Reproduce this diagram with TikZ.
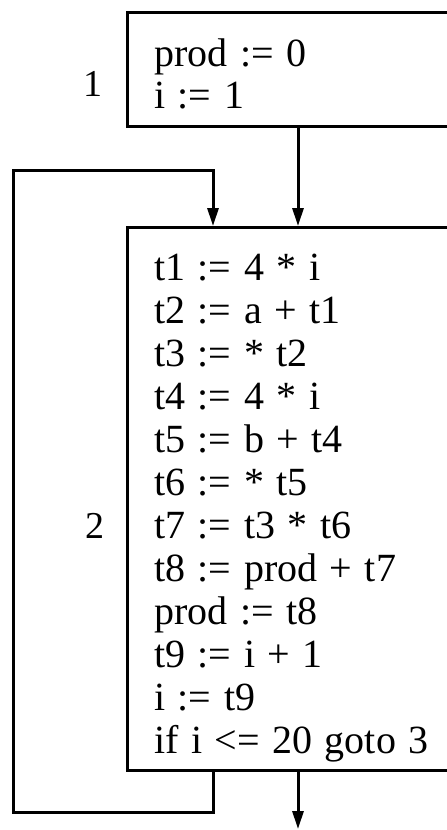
\documentclass[tikz,border=0pt]{standalone}
\usepackage{fontspec}
\setmainfont[WordSpace=1.25]{Liberation Serif}
\usetikzlibrary{arrows.meta}
\begin{document}
\begin{tikzpicture}[x=1pt,y=1pt,
  blk/.style={draw, line width=3pt, inner sep=0pt, anchor=north west},
  code/.style={anchor=base west, inner sep=0pt, font=\fontsize{40}{43}\selectfont},
  lbl/.style={anchor=base, inner sep=0pt, font=\fontsize{38}{43}\selectfont},
  arr/.style={line width=3pt, -{Triangle[length=18pt,width=11pt]}}]
\useasboundingbox (0,0) rectangle (447,-830);
\clip (0,0) rectangle (447,-830);
\fill[white] (0,0) rectangle (447,-830);
% blocks
\node[blk, minimum width=360pt, minimum height=114pt] (b1) at (126,-11) {};
\node[blk, minimum width=360pt, minimum height=543pt] (b2) at (126,-226) {};
% block labels
\node[lbl] (n1) at (93,-96) {1};
\node[lbl] (n2) at (95,-538) {2};
% code of block 1
\node[code] (p1) at (154,-66) {prod := 0};
\node[code] (p2) at (154,-108) {i := 1};
% code of block 2
\foreach \t [count=\k from 0] in {t1 := 4 * i, t2 := a + t1, t3 := * t2, t4 := 4 * i,
  t5 := b + t4, t6 := * t5, t7 := t3 * t6, t8 := prod + t7, prod := t8,
  t9 := i + 1, i := t9, if i <= 20 goto 3}
  \node[code] (q\k) at (154,-280-43*\k) {\t};
% connectors
\coordinate (cx) at (298,0);
\coordinate (lx) at (213,0);
\coordinate (exit) at (298,-829);
\coordinate (lb) at (13,-812);
\coordinate (lt) at (13,-170);
\draw[arr] (b1.south -| cx) -- (b2.north -| cx);
\draw[arr] (b2.south -| cx) -- (exit);
\draw[arr, line join=miter] (b2.south -| lx) -- (lb -| lx) -- (lb) -- (lt) -- (lt -| lx) -- (b2.north -| lx);
\end{tikzpicture}
\end{document}
